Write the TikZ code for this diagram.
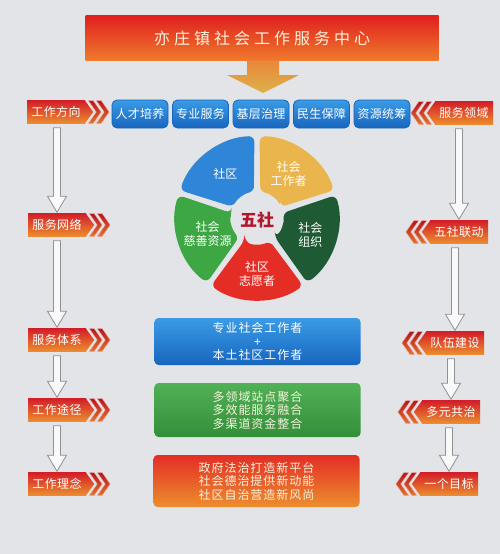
\documentclass[tikz,border=0pt]{standalone}
\usepackage{fontspec}
\setmainfont{Noto Sans CJK SC}
\usetikzlibrary{calc}
\definecolor{bgcol}{HTML}{E2E4E8}
\definecolor{titlered}{HTML}{E0201E}
\definecolor{titleorange}{HTML}{F07A2C}
\definecolor{bannerred}{HTML}{D31E28}
\definecolor{bannerorange}{HTML}{EC8E2E}
\definecolor{chevred}{HTML}{B3161D}
\definecolor{btnblue}{HTML}{3A9BE6}
\definecolor{btnbluedark}{HTML}{1766BE}
\definecolor{wheelblue}{HTML}{2F86D8}
\definecolor{wheelyellow}{HTML}{E9B54C}
\definecolor{wheeldkgreen}{HTML}{1E5B35}
\definecolor{wheelred}{HTML}{E42D25}
\definecolor{wheelgreen}{HTML}{3DA843}
\definecolor{wusered}{HTML}{B3162A}
\definecolor{goldtop}{HTML}{E9873A}
\definecolor{goldbot}{HTML}{DDB24A}
\definecolor{arrowgray}{HTML}{8E9094}
\definecolor{paletext}{HTML}{F6F2DC}

% pointed end and two chevrons of a banner (#2 = east/west, #3 = 1/-1)
\newcommand{\bannertip}[3]{%
  \shade[top color=bannerred,bottom color=bannerorange]
    ($(#1.north #2)+(-0.5*#3,0)$) -- ($(#1.#2)+(8*#3,0)$) -- ($(#1.south #2)+(-0.5*#3,0)$) -- cycle;
  \foreach \o in {11,19}
    \shade[top color=chevred,bottom color=bannerorange!80!chevred,draw=white!70!red,line width=0.4pt]
      ($(#1.#2)+(#3*\o-#3*8,-11.5)$) -- ($(#1.#2)+(#3*\o-#3*3,-11.5)$) -- ($(#1.#2)+(#3*\o+#3*5,0)$)
      -- ($(#1.#2)+(#3*\o-#3*3,11.5)$) -- ($(#1.#2)+(#3*\o-#3*8,11.5)$) -- ($(#1.#2)+(#3*\o,0)$) -- cycle;
}
% hollow arrow from one banner down to the next
\newcommand{\flowarrow}[2]{%
  \draw[flowarrow] let \p1=(#2.north |- #1.south), \p2=(#2.north) in
    (\x1-3.5pt,\y1-4pt) -- (\x1-3.5pt,\y2+17pt) -- (\x1-9.5pt,\y2+17pt) -- (\x2,\y2+1pt)
    -- (\x1+9.5pt,\y2+17pt) -- (\x1+3.5pt,\y2+17pt) -- (\x1+3.5pt,\y1-4pt) -- cycle;
}

\begin{document}
\begin{tikzpicture}[x=1pt,y=-1pt,
banner/.style={rectangle,top color=bannerred,bottom color=bannerorange,text=white,inner sep=0pt,
  minimum width=58pt,minimum height=23pt,font=\fontsize{12}{14}\selectfont\addfontfeature{LetterSpace=3}},
tagbtn/.style={rectangle,rounded corners=5pt,draw=btnbluedark,line width=0.8pt,top color=btnblue,bottom color=btnbluedark,
  text=white,inner sep=0pt,minimum width=56pt,minimum height=28pt,font=\fontsize{12}{14}\selectfont\addfontfeature{LetterSpace=2}},
midbox/.style={rectangle,rounded corners=4pt,inner sep=0pt,align=center,minimum width=206pt,
  font=\fontsize{12}{13.5}\selectfont\addfontfeature{LetterSpace=8}},
flowarrow/.style={draw=arrowgray,fill=white!95!gray,line width=0.8pt},
wheeltext/.style={text=white,align=center,font=\fontsize{12}{14}\selectfont}]

\fill[bgcol] (0,0) rectangle (500,554);

% title and gold arrow
\draw (262,38) node[rectangle,top color=titlered,bottom color=titleorange,minimum width=353pt,minimum height=45pt,
  text=paletext,font=\fontsize{16}{18}\selectfont\addfontfeature{LetterSpace=25}] (title) {亦庄镇社会工作服务中心};
\coordinate (goldtip) at (263,93);
\shade[top color=goldtop,bottom color=goldbot] let \p1=(goldtip), \p2=(title.south) in
  (\x1-16pt,\y2) -- (\x1-16pt,\y1+18pt) -- (\x1-36pt,\y1+18pt) -- (\p1)
  -- (\x1+36pt,\y1+18pt) -- (\x1+16pt,\y1+18pt) -- (\x1+16pt,\y2) -- cycle;

% top row
\draw (140,114) node[tagbtn] (talent) {人才培养};
\draw (200.5,114) node[tagbtn] (service) {专业服务};
\draw (261,114) node[tagbtn] (govern) {基层治理};
\draw (321.5,114) node[tagbtn] (welfare) {民生保障};
\draw (382,114) node[tagbtn] (resource) {资源统筹};

% left column
\draw (56,112) node[banner] (dir) {工作方向};
\draw (57,225) node[banner] (net) {服务网络};
\draw (57,340) node[banner] (sys) {服务体系};
\draw (57,410) node[banner] (path) {工作途径};
\draw (57,484) node[banner] (idea) {工作理念};
\bannertip{dir}{east}{1}
\bannertip{net}{east}{1}
\bannertip{sys}{east}{1}
\bannertip{path}{east}{1}
\bannertip{idea}{east}{1}
\flowarrow{dir}{net}
\flowarrow{net}{sys}
\flowarrow{sys}{path}
\flowarrow{path}{idea}

% right column
\draw (464,113) node[banner] (field) {服务领域};
\draw (459,232) node[banner] (link) {五社联动};
\draw (455,343) node[banner] (team) {队伍建设};
\draw (451,412) node[banner] (cogov) {多元共治};
\draw (449,484) node[banner] (goal) {一个目标};
\bannertip{field}{west}{-1}
\bannertip{link}{west}{-1}
\bannertip{team}{west}{-1}
\bannertip{cogov}{west}{-1}
\bannertip{goal}{west}{-1}
\flowarrow{field}{link}
\flowarrow{link}{team}
\flowarrow{team}{cogov}
\flowarrow{cogov}{goal}

% five-part wheel
\begin{scope}[shift={(257,218)},y=1pt]
\foreach \a/\c in {126/wheelblue,54/wheelyellow,-18/wheeldkgreen,-90/wheelred,198/wheelgreen}
  \fill[\c,rounded corners=6pt] (\a-29:26) -- (\a-34.2:82) arc[start angle=\a-34.2,end angle=\a+34.2,radius=82]
    -- (\a+29:26) arc[start angle=\a+29,end angle=\a-29,radius=26] -- cycle;
\node[wheeltext] (community) at (126:54) {社区};
\node[wheeltext] (socialworker) at (54:54) {社会\\工作者};
\node[wheeltext] (organization) at (-18:56) {社会\\组织};
\node[wheeltext] (volunteer) at (-90:56) {社区\\志愿者};
\node[wheeltext] (charity) at (198:52) {社会\\慈善资源};
\node[text=wusered,font=\fontsize{17}{19}\selectfont\bfseries] (wushe) at (0,-2) {五社};
\end{scope}

% middle boxes
\draw (257.5,341.5) node[midbox,top color=btnblue,bottom color=btnbluedark,text=white,minimum height=47pt] (workers)
  {专业社会工作者\\+\\本土社区工作者};
\draw (257.5,410) node[midbox,top color=wheelgreen!90!white,bottom color=wheelgreen!85!black,text=paletext,minimum height=54pt] (merge)
  {多领域站点聚合\\多效能服务融合\\多渠道资金整合};
\draw (256.5,481) node[midbox,top color=wheelred,bottom color=bannerorange,text=paletext,minimum height=52pt] (rule)
  {政府法治打造新平台\\社会德治提供新动能\\社区自治营造新风尚};

\end{tikzpicture}
\end{document}
